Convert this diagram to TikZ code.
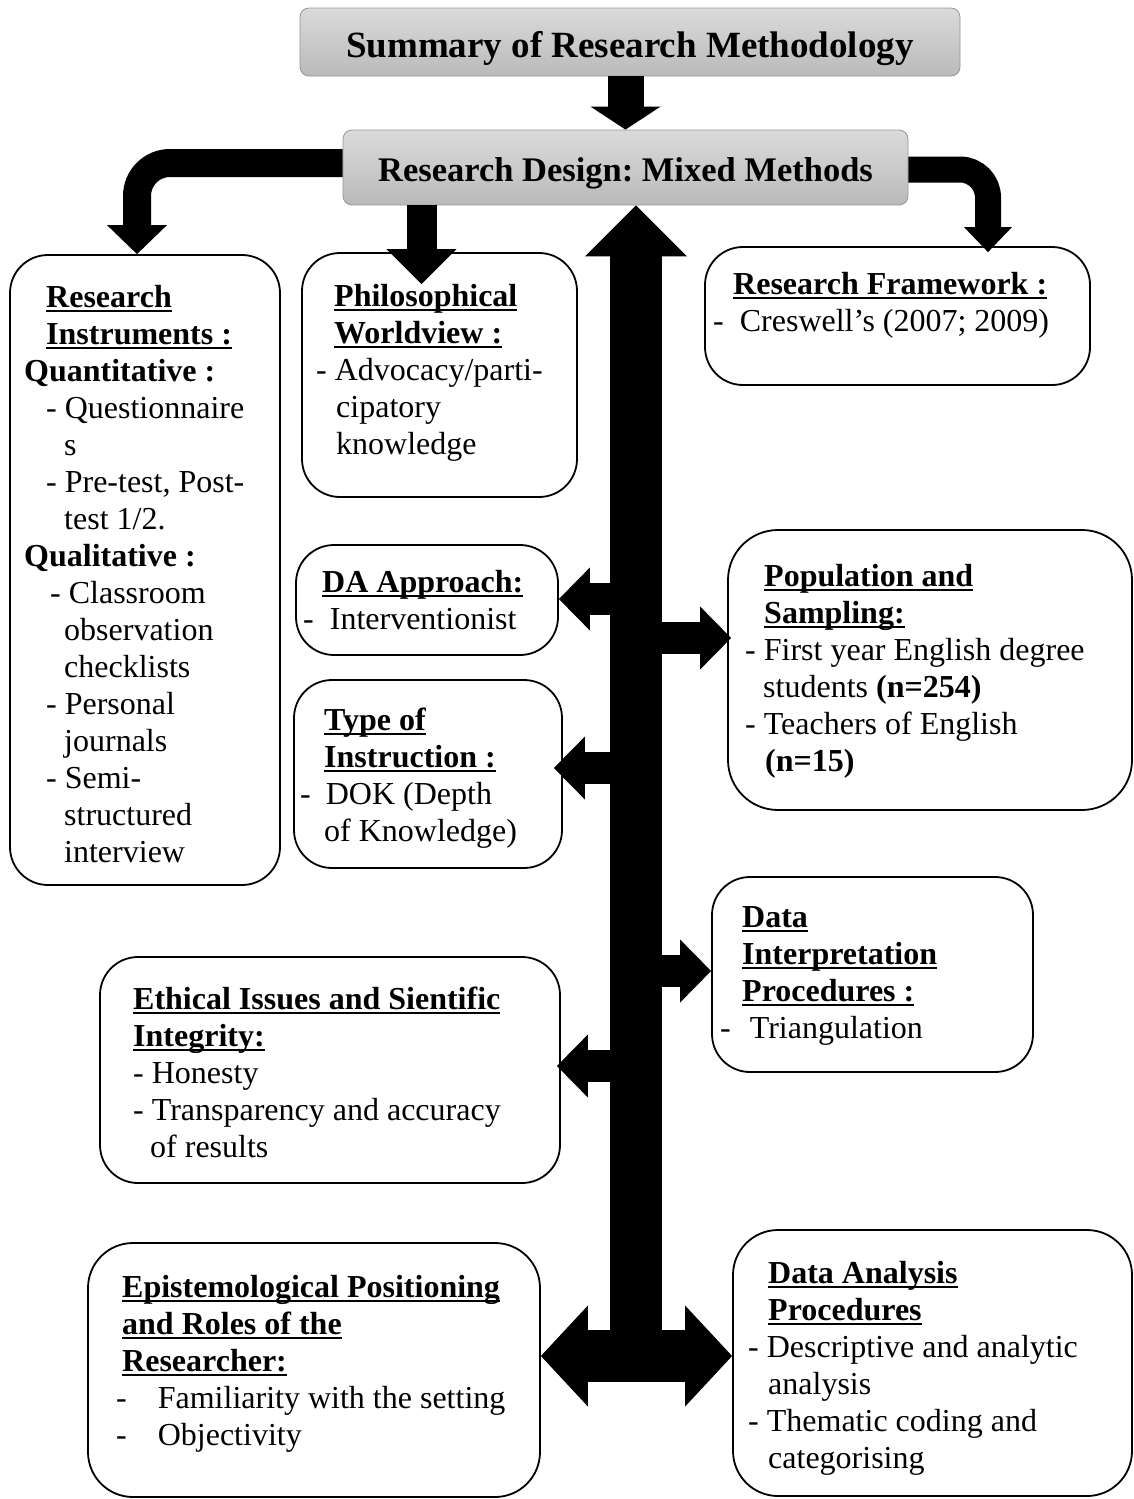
\documentclass[tikz,border=0pt]{standalone}
\usepackage{fontspec}
\setmainfont{Liberation Serif}
\usetikzlibrary{arrows.meta,shadings,calc}
\definecolor{gtop}{RGB}{218,218,218}
\definecolor{gbot}{RGB}{186,186,186}
\definecolor{gbord}{RGB}{150,150,150}
\newcommand{\ulin}[1]{\setbox0=\hbox{#1}\rlap{\rule[-5pt]{\wd0}{2.6pt}}\box0}
\frenchspacing
\begin{document}
\frenchspacing
\begin{tikzpicture}[x=1pt,y=-1pt,
  box/.style={draw, line width=1.8pt, rounded corners=38pt, inner sep=0pt},
  gbox/.style={draw=gbord, line width=0.8pt, rounded corners=9pt, top color=gtop, bottom color=gbot, inner sep=0pt},
  txt/.style={anchor=north west, align=left, inner sep=0pt, font=\fontsize{32}{37}\selectfont},
  side/.style={line width=32pt, -{Triangle[width=63pt,length=31pt,line width=0pt]}}]
\useasboundingbox (0,0) rectangle (1134,1499);

% gray boxes
\node[gbox, minimum width=660pt, minimum height=68pt] (title) at (630,42) {};
\node[gbox, minimum width=565pt, minimum height=75pt] (design) at (625.5,167.5) {};
\node[inner sep=0pt, font=\fontsize{37}{44}\selectfont\bfseries] (titleT) at ([yshift=-7pt]title.center) {Summary of Research Methodology};
\node[inner sep=0pt, font=\fontsize{34.5}{41}\selectfont\bfseries] (designT) at ([yshift=-6pt]design.center) {Research Design: Mixed Methods};

% white boxes
\node[box, minimum width=270pt, minimum height=630pt] (ri) at (145,570) {};
\node[box, minimum width=275pt, minimum height=244pt] (ph) at (439.5,375) {};
\node[box, minimum width=385pt, minimum height=138pt] (rf) at (897.5,316) {};
\node[box, minimum width=262pt, minimum height=110pt] (dab) at (427,600) {};
\node[box, minimum width=268pt, minimum height=188pt] (ti) at (428,774) {};
\node[box, rounded corners=50pt, minimum width=404pt, minimum height=280pt] (pop) at (930,670) {};
\node[box, minimum width=321pt, minimum height=195pt] (di) at (872.5,974.5) {};
\node[box, minimum width=460pt, minimum height=226pt] (eth) at (330,1070) {};
\node[box, rounded corners=45pt, minimum width=452pt, minimum height=254pt] (ep) at (314,1370) {};
\node[box, rounded corners=45pt, minimum width=399pt, minimum height=266pt] (da) at (932.5,1363) {};

% arrows
\draw[line width=36pt, -{Triangle[width=70pt,length=23pt,line width=0pt]}] (title.south -| design.north) -- (design.north);
\draw[line width=28pt, rounded corners=33pt, -{Triangle[width=60pt,length=29pt,line width=0pt]}] ([yshift=4.5pt]design.west) -| ([xshift=-8pt]ri.north);
\coordinate (rftip) at ([xshift=90.5pt,yshift=-6pt]rf.north);
\draw[line width=26pt, rounded corners=28pt, -{Triangle[width=48pt,length=25pt,line width=0pt]}] ([yshift=-2pt]design.east) -| (rftip);
\coordinate (phtip) at ([xshift=-18pt,yshift=-32pt]ph.north);
\draw[line width=30pt, -{Triangle[width=70pt,length=35pt,line width=0pt]}] (design.south -| phtip) -- (phtip);

\coordinate (hub) at (636,1356);
\draw[line width=52pt, -{Triangle[width=102pt,length=51pt,line width=0pt]}] (hub) -- (hub |- design.south);
\draw[line width=52pt, {Triangle[width=101pt,length=47pt,line width=0pt]}-{Triangle[width=101pt,length=47pt,line width=0pt]}] (hub -| ep.east) -- (hub -| da.west);

\coordinate (a1) at (636,599);
\coordinate (a2) at (636,638);
\coordinate (a3) at (636,768);
\coordinate (a4) at (636,971);
\coordinate (a5) at (636,1066);
\coordinate (t3) at ([xshift=-9pt]ti.east);
\coordinate (t5) at ([xshift=-4pt]eth.east);
\coordinate (t2) at ([xshift=4pt]pop.west);
\draw[side] (a1) -- (a1 -| dab.east);
\draw[side] (a2) -- (a2 -| t2);
\draw[side] (a3) -- (a3 -| t3);
\draw[side] (a4) -- (a4 -| di.west);
\draw[side] (a5) -- (a5 -| t5);

% texts
\node[txt] (riT) at (24,281.1) {\strut\hspace*{22pt}\ulin{\textbf{Research}}\\
\hspace*{22pt}\ulin{\textbf{Instruments :}}\\
\textbf{Quantitative :}\\
\hspace*{22pt}- Questionnaire\\
\hspace*{40pt}s\\
\hspace*{22pt}- Pre-test, Post-\\
\hspace*{40pt}test 1/2.\\
\textbf{Qualitative :}\\
\hspace*{26pt}- Classroom\\
\hspace*{40pt}observation\\
\hspace*{40pt}checklists\\
\hspace*{22pt}- Personal\\
\hspace*{40pt}journals\\
\hspace*{22pt}- Semi-\\
\hspace*{40pt}structured\\
\hspace*{40pt}interview};

\node[txt] (phT) at (316,280.1) {\strut\hspace*{18pt}\ulin{\textbf{Philosophical}}\\
\hspace*{18pt}\ulin{\textbf{Worldview :}}\\
- Advocacy/parti-\\
\hspace*{20pt}cipatory\\
\hspace*{20pt}knowledge};

\node[txt] (rfT) at (713,268.1) {\strut\hspace*{20pt}\ulin{\textbf{Research Framework :}}\\
-\hspace*{16pt}Creswell’s (2007; 2009)};

\node[txt] (dabT) at (303,566.1) {\strut\hspace*{19pt}\ulin{\textbf{DA Approach:}}\\
-\hspace*{16pt}Interventionist};

\node[txt] (tiT) at (300,704.1) {\strut\hspace*{24pt}\ulin{\textbf{Type of}}\\
\hspace*{24pt}\ulin{\textbf{Instruction :}}\\
-\hspace*{15pt}DOK (Depth\\
\hspace*{24pt}of Knowledge)};

\node[txt] (popT) at (745,560.1) {\strut\hspace*{19pt}\ulin{\textbf{Population and}}\\
\hspace*{19pt}\ulin{\textbf{Sampling:}}\\
- First year English degree\\
\hspace*{18pt}students \textbf{(n=254)}\\
- Teachers of English\\
\hspace*{20pt}\textbf{(n=15)}};

\node[txt] (diT) at (720,901.1) {\strut\hspace*{22pt}\ulin{\textbf{Data}}\\
\hspace*{22pt}\ulin{\textbf{Interpretation}}\\
\hspace*{22pt}\ulin{\textbf{Procedures :}}\\
-\hspace*{19pt}Triangulation};

\node[txt] (ethT) at (133,983.1) {\strut\ulin{\textbf{Ethical Issues and Sientific}}\\
\ulin{\textbf{Integrity:}}\\
- Honesty\\
- Transparency and accuracy\\
\hspace*{17pt}of results};

\node[txt] (epT) at (116,1271.1) {\strut\hspace*{6pt}\ulin{\textbf{Epistemological Positioning}}\\
\hspace*{6pt}\ulin{\textbf{and Roles of the}}\\
\hspace*{6pt}\ulin{\textbf{Researcher:}}\\
-\hspace*{31pt}Familiarity with the setting\\
-\hspace*{31pt}Objectivity};

\node[txt] (daT) at (748,1257.1) {\strut\hspace*{20pt}\ulin{\textbf{Data Analysis}}\\
\hspace*{20pt}\ulin{\textbf{Procedures}}\\
- Descriptive and analytic\\
\hspace*{20pt}analysis\\
- Thematic coding and\\
\hspace*{20pt}categorising};
\end{tikzpicture}
\end{document}
